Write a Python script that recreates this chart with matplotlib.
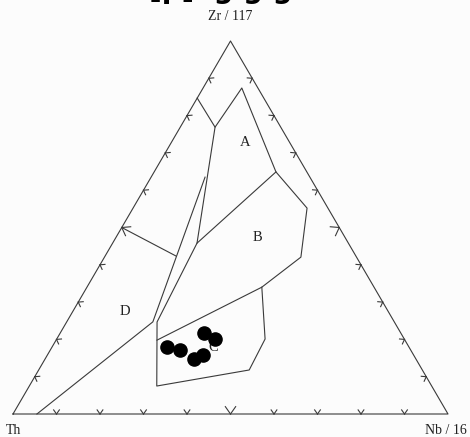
import numpy as np
import matplotlib.pyplot as plt

# ternary coordinates as (Th, Zr, Nb) fractions
apex_labels = ['Th', 'Zr / 117', 'Nb / 16']

# field boundary polylines
upper_line = [(0.153, 0.847, 0.0), (0.151, 0.769, 0.080), (0.037, 0.874, 0.089),
              (0.071, 0.649, 0.280), (0.048, 0.552, 0.400), (0.128, 0.421, 0.452),
              (0.258, 0.340, 0.402), (0.570, 0.198, 0.232)]
mid_line = [(0.151, 0.769, 0.080), (0.348, 0.458, 0.194), (0.546, 0.247, 0.208),
            (0.632, 0.075, 0.293), (0.398, 0.118, 0.484), (0.320, 0.201, 0.479),
            (0.258, 0.340, 0.402)]
ab_line = [(0.071, 0.649, 0.280), (0.348, 0.458, 0.194)]
left_line = [(0.241, 0.635, 0.124), (0.555, 0.247, 0.198), (0.945, 0.0, 0.055)]
d_line = [(0.500, 0.500, 0.0), (0.414, 0.424, 0.162)]

field_names = ['A', 'B', 'C', 'D']
field_pos = [(0.102, 0.729, 0.169), (0.202, 0.475, 0.324),
             (0.452, 0.177, 0.371), (0.605, 0.276, 0.120)]

# samples
th = [0.556, 0.530, 0.452, 0.435, 0.510, 0.484]
zr = [0.180, 0.172, 0.217, 0.201, 0.148, 0.158]
nb = [0.264, 0.298, 0.331, 0.364, 0.342, 0.358]

SX, SY = 435.0, 373.0  # pixel size of the triangle


def tern(p):
    t, z, n = np.asarray(p, dtype=float).T
    s = t + z + n
    z, n = z / s, n / s
    return n + z / 2, z


fig = plt.figure(figsize=(4.70, 4.37), dpi=100, facecolor='#fcfcfc')
ax = fig.add_axes([0, 0, 1, 1])
ax.set_xlim(-13 / SX, 457 / SX)
ax.set_ylim(-23 / SY, 414 / SY)
ax.axis('off')

lc = '#3a3a3a'
lw = 0.8

# outline
x, y = tern([(1, 0, 0), (0, 0, 1), (0, 1, 0), (1, 0, 0)])
ax.plot(x, y, color=lc, lw=lw)

for line in [upper_line, mid_line, ab_line, left_line, d_line]:
    x, y = tern(line)
    ax.plot(x, y, color=lc, lw=lw)

# chevron ticks every 10 %
corners = [np.array(tern([c])).ravel() for c in [(1, 0, 0), (0, 0, 1), (0, 1, 0)]]
for i in range(3):
    a, b = corners[i], corners[(i + 1) % 3]
    # direction in pixel space
    d = np.array([(b[0] - a[0]) * SX, (b[1] - a[1]) * SY])
    d /= np.hypot(*d)
    nrm = np.array([-d[1], d[0]])  # inward (counter-clockwise order)
    for k in range(1, 10):
        p = a + (b - a) * k / 10
        L = 9 if k == 5 else 5
        for ang in (np.radians(35), -np.radians(35)):
            r = np.array([nrm[0] * np.cos(ang) - nrm[1] * np.sin(ang),
                          nrm[0] * np.sin(ang) + nrm[1] * np.cos(ang)])
            ax.plot([p[0], p[0] + r[0] * L / SX], [p[1], p[1] + r[1] * L / SY],
                    color=lc, lw=lw)

serif = 'Liberation Serif'
for name, pos in zip(field_names, field_pos):
    x, y = tern([pos])
    ax.text(x[0], y[0], name, fontsize=10.5, family=serif, ha='center', va='center', color='#222222')

x, y = tern(list(zip(th, zr, nb)))
ax.scatter(x, y, s=90, color='black', zorder=5)

ax.text(0.5, 398 / SY, apex_labels[1], fontsize=10, family=serif, ha='center', va='center', color='#222222')
ax.text(1 / SX, -17 / SY, apex_labels[0], fontsize=10, family=serif, ha='center', va='center', color='#222222')
ax.text(433 / SX, -17 / SY, apex_labels[2], fontsize=10, family=serif, ha='center', va='center', color='#222222')

# title cut off at the top edge, only the descenders show
fig.text(0.47, 1.004, '[p]  g g g', fontsize=20, fontweight='bold', ha='center', va='baseline')

fig.savefig('out.png', dpi=100, facecolor=fig.get_facecolor())
